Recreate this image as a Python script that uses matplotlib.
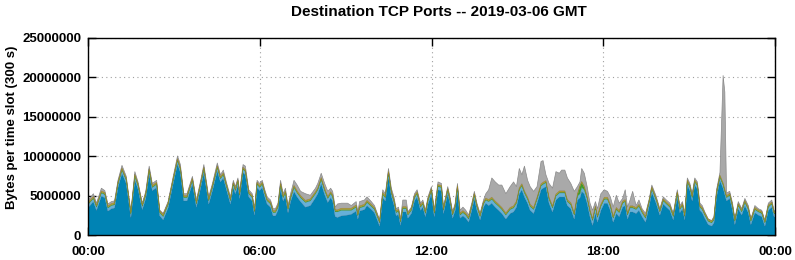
import numpy as np
import matplotlib
matplotlib.use('Agg')
import matplotlib.pyplot as plt

plt.rcParams['font.family'] = ['Liberation Sans', 'DejaVu Sans']
plt.rcParams['font.weight'] = 'bold'

# time of each sample (hours GMT)
hours = [0.00, 0.17, 0.28, 0.45, 0.57, 0.68, 0.80, 0.91, 1.03, 1.17,
         1.32, 1.48, 1.62, 1.73, 1.88, 2.00, 2.12, 2.23, 2.38, 2.49,
         2.61, 2.78, 2.96, 3.11, 3.21, 3.33, 3.44, 3.63, 3.77, 3.92,
         4.03, 4.13, 4.20, 4.33, 4.50, 4.61, 4.71, 4.83, 4.96, 5.06,
         5.13, 5.22, 5.28, 5.40, 5.48, 5.60, 5.72, 5.80, 5.89, 5.98,
         6.07, 6.16, 6.24, 6.36, 6.45, 6.53, 6.62, 6.71, 6.80, 6.88,
         6.97, 7.06, 7.18, 7.29, 7.41, 7.58, 7.75, 7.93, 8.01, 8.13,
         8.25, 8.36, 8.46, 8.53, 8.62, 8.70, 8.83, 9.05, 9.18, 9.35,
         9.41, 9.47, 9.64, 9.73, 9.88, 9.99, 10.11, 10.17, 10.28, 10.37,
         10.48, 10.58, 10.67, 10.75, 10.83, 10.90, 10.98, 11.10, 11.16, 11.28,
         11.39, 11.48, 11.60, 11.68, 11.77, 11.86, 11.98, 12.08, 12.21, 12.33,
         12.40, 12.55, 12.63, 12.72, 12.81, 12.89, 12.98, 13.08, 13.18, 13.28,
         13.39, 13.48, 13.57, 13.68, 13.80, 13.88, 13.98, 14.09, 14.21, 14.33,
         14.44, 14.58, 14.73, 14.85, 14.95, 15.05, 15.14, 15.23, 15.34, 15.43,
         15.55, 15.67, 15.81, 15.88, 15.98, 16.09, 16.21, 16.33, 16.45, 16.53,
         16.64, 16.73, 16.85, 16.97, 17.08, 17.17, 17.23, 17.32, 17.42, 17.52,
         17.61, 17.71, 17.78, 17.90, 18.02, 18.13, 18.23, 18.33, 18.44, 18.54,
         18.66, 18.75, 18.83, 18.92, 19.01, 19.13, 19.23, 19.34, 19.46, 19.58,
         19.68, 19.83, 19.96, 20.08, 20.19, 20.31, 20.43, 20.57, 20.66, 20.75,
         20.83, 20.92, 21.01, 21.09, 21.18, 21.27, 21.36, 21.44, 21.53, 21.65,
         21.77, 21.85, 21.94, 22.06, 22.17, 22.23, 22.29, 22.40, 22.50, 22.58,
         22.70, 22.82, 22.93, 23.05, 23.14, 23.28, 23.40, 23.52, 23.63, 23.75,
         23.87, 23.95, 24.00]

# total bytes per slot (millions)
total = [4.5, 5.3, 4.1, 6.0, 5.7, 4.0, 4.3, 4.4, 7.0, 8.9,
         7.5, 3.0, 8.1, 6.8, 4.1, 5.6, 8.8, 6.6, 7.0, 3.2,
         2.8, 4.3, 7.5, 10.1, 9.0, 5.3, 5.3, 7.5, 4.5, 7.0,
         9.0, 6.6, 4.9, 6.6, 9.2, 7.7, 8.3, 6.6, 4.9, 7.0,
         6.2, 7.3, 5.6, 9.0, 8.8, 5.8, 5.3, 3.4, 7.0, 6.6,
         7.0, 5.8, 4.9, 4.5, 3.4, 3.4, 4.1, 7.0, 5.3, 6.0,
         3.8, 5.3, 7.0, 6.4, 5.6, 5.3, 5.1, 6.0, 6.6, 7.9,
         6.6, 5.6, 6.0, 5.6, 3.6, 4.0, 4.1, 4.1, 3.8, 4.3,
         3.0, 4.3, 4.5, 4.9, 4.3, 3.8, 2.6, 1.9, 5.8, 5.3,
         8.5, 6.0, 4.9, 3.4, 3.6, 2.1, 4.5, 4.5, 3.0, 3.6,
         5.3, 5.8, 4.1, 4.5, 3.2, 4.9, 6.2, 3.2, 6.8, 6.6,
         3.6, 6.2, 4.9, 3.0, 4.1, 6.6, 3.2, 3.6, 3.2, 2.6,
         4.1, 5.6, 4.1, 2.8, 4.5, 5.3, 5.8, 7.3, 6.8, 6.4,
         6.4, 5.3, 6.2, 6.8, 6.2, 8.5, 7.7, 8.8, 7.0, 6.2,
         5.6, 6.2, 9.4, 9.5, 7.7, 6.6, 6.0, 8.1, 7.9, 8.3,
         8.3, 7.3, 6.6, 5.6, 6.2, 6.8, 8.5, 7.9, 6.2, 4.1,
         3.2, 4.3, 3.4, 5.3, 5.8, 5.6, 4.9, 3.6, 5.1, 4.1,
         4.7, 5.8, 3.6, 4.5, 5.6, 3.8, 4.5, 3.4, 2.8, 4.5,
         6.4, 5.0, 3.4, 4.9, 4.5, 4.1, 2.8, 5.8, 3.8, 4.3,
         2.8, 7.3, 6.6, 5.3, 7.3, 6.8, 4.1, 3.8, 3.0, 2.1,
         1.9, 2.4, 5.8, 8.0, 20.3, 18.2, 5.4, 5.6, 4.1, 2.1,
         4.3, 3.4, 4.7, 3.8, 2.1, 3.8, 3.4, 3.2, 1.9, 4.1,
         4.5, 3.2, 3.0]

# main port (blue)
blue = [3.6, 4.3, 3.2, 5.0, 4.8, 3.1, 3.4, 3.5, 6.1, 7.9,
        6.6, 2.3, 7.1, 5.9, 3.3, 4.7, 7.8, 5.7, 6.1, 2.5,
        2.0, 3.5, 6.6, 9.1, 8.0, 4.4, 4.4, 6.6, 3.6, 6.1,
        8.0, 5.7, 4.0, 5.7, 8.2, 6.8, 7.3, 5.7, 4.0, 6.1,
        5.3, 6.4, 4.7, 8.0, 7.7, 4.9, 4.4, 2.6, 6.1, 5.7,
        6.1, 4.9, 4.0, 3.6, 2.5, 2.5, 3.2, 6.0, 4.4, 5.0,
        2.9, 4.3, 5.6, 4.9, 4.3, 3.6, 3.8, 4.8, 5.3, 6.6,
        5.2, 4.2, 4.8, 4.4, 2.4, 2.3, 2.5, 2.6, 2.7, 3.1,
        2.1, 3.1, 3.3, 3.8, 3.3, 2.9, 1.8, 1.2, 4.8, 4.4,
        7.5, 5.0, 3.9, 2.5, 2.7, 1.3, 3.0, 3.0, 2.2, 2.8,
        4.4, 4.9, 3.2, 3.6, 2.4, 4.0, 5.3, 2.4, 5.8, 5.7,
        2.8, 5.3, 4.0, 2.2, 3.2, 5.7, 2.2, 2.5, 2.2, 1.7,
        3.2, 4.7, 3.2, 2.0, 3.6, 4.1, 3.8, 4.1, 3.6, 3.2,
        2.8, 2.1, 2.8, 3.0, 3.6, 5.3, 5.8, 4.9, 4.1, 3.2,
        2.8, 4.1, 5.8, 6.0, 6.2, 4.1, 3.0, 4.5, 4.9, 4.9,
        4.9, 3.8, 3.4, 2.1, 4.5, 4.8, 5.6, 5.3, 4.1, 2.4,
        1.3, 2.9, 1.7, 3.2, 4.1, 4.1, 3.2, 1.7, 2.8, 2.4,
        3.6, 3.8, 2.1, 3.0, 3.0, 2.8, 3.2, 2.4, 1.7, 3.6,
        5.5, 4.1, 2.6, 4.0, 3.6, 3.2, 2.0, 4.9, 2.9, 3.4,
        2.0, 6.4, 5.7, 4.4, 6.4, 5.9, 3.2, 2.9, 2.2, 1.4,
        1.2, 1.6, 4.9, 7.0, 6.0, 5.2, 4.4, 4.7, 3.2, 1.4,
        3.4, 2.6, 3.8, 2.9, 1.4, 2.9, 2.6, 2.4, 1.2, 3.2,
        3.6, 2.4, 2.3]

# second port (light blue)
light = [0.4, 0.4, 0.4, 0.4, 0.4, 0.4, 0.4, 0.4, 0.4, 0.4,
         0.4, 0.4, 0.4, 0.4, 0.4, 0.4, 0.4, 0.4, 0.4, 0.4,
         0.4, 0.4, 0.4, 0.4, 0.4, 0.4, 0.4, 0.4, 0.4, 0.4,
         0.4, 0.4, 0.4, 0.4, 0.4, 0.4, 0.4, 0.4, 0.4, 0.4,
         0.4, 0.4, 0.4, 0.4, 0.4, 0.4, 0.4, 0.4, 0.4, 0.4,
         0.4, 0.4, 0.4, 0.4, 0.4, 0.4, 0.4, 0.4, 0.4, 0.4,
         0.4, 0.4, 0.5, 0.5, 0.5, 0.6, 0.6, 0.5, 0.5, 0.5,
         0.5, 0.5, 0.5, 0.5, 0.6, 0.7, 0.7, 0.6, 0.5, 0.5,
         0.4, 0.4, 0.4, 0.4, 0.4, 0.4, 0.4, 0.4, 0.4, 0.4,
         0.4, 0.4, 0.4, 0.4, 0.4, 0.4, 0.4, 0.4, 0.4, 0.4,
         0.4, 0.4, 0.4, 0.4, 0.4, 0.4, 0.4, 0.4, 0.4, 0.4,
         0.4, 0.4, 0.4, 0.4, 0.4, 0.4, 0.4, 0.4, 0.4, 0.4,
         0.4, 0.4, 0.4, 0.4, 0.4, 0.4, 0.5, 0.5, 0.5, 0.5,
         0.5, 0.5, 0.5, 0.5, 0.5, 0.5, 0.5, 0.5, 0.5, 0.5,
         0.5, 0.5, 0.5, 0.5, 0.5, 0.5, 0.5, 0.5, 0.5, 0.5,
         0.5, 0.5, 0.5, 0.5, 0.5, 0.5, 0.5, 0.5, 0.6, 0.6,
         0.6, 0.6, 0.6, 0.5, 0.5, 0.5, 0.5, 0.5, 0.5, 0.5,
         0.5, 0.5, 0.5, 0.5, 0.5, 0.5, 0.5, 0.5, 0.5, 0.5,
         0.4, 0.4, 0.4, 0.4, 0.4, 0.4, 0.4, 0.4, 0.4, 0.4,
         0.4, 0.4, 0.4, 0.4, 0.4, 0.4, 0.4, 0.4, 0.4, 0.4,
         0.4, 0.4, 0.4, 0.4, 0.4, 0.4, 0.4, 0.4, 0.4, 0.4,
         0.4, 0.4, 0.4, 0.4, 0.4, 0.4, 0.4, 0.4, 0.4, 0.4,
         0.4, 0.4, 0.4]

# third port (green)
green = [0.1, 0.1, 0.1, 0.1, 0.1, 0.1, 0.1, 0.1, 0.1, 0.1,
         0.1, 0.1, 0.1, 0.1, 0.1, 0.1, 0.1, 0.1, 0.1, 0.1,
         0.1, 0.1, 0.1, 0.1, 0.1, 0.1, 0.1, 0.1, 0.1, 0.1,
         0.1, 0.1, 0.1, 0.1, 0.1, 0.1, 0.1, 0.1, 0.1, 0.1,
         0.1, 0.1, 0.1, 0.1, 0.1, 0.1, 0.1, 0.1, 0.1, 0.1,
         0.1, 0.1, 0.1, 0.1, 0.1, 0.1, 0.1, 0.1, 0.1, 0.1,
         0.1, 0.1, 0.1, 0.1, 0.1, 0.1, 0.1, 0.1, 0.1, 0.1,
         0.1, 0.1, 0.1, 0.1, 0.1, 0.1, 0.1, 0.1, 0.1, 0.1,
         0.1, 0.1, 0.1, 0.1, 0.1, 0.1, 0.1, 0.1, 0.1, 0.1,
         0.1, 0.1, 0.1, 0.1, 0.1, 0.1, 0.1, 0.1, 0.1, 0.1,
         0.1, 0.1, 0.1, 0.1, 0.1, 0.1, 0.1, 0.1, 0.1, 0.1,
         0.1, 0.1, 0.1, 0.1, 0.1, 0.1, 0.1, 0.1, 0.1, 0.1,
         0.1, 0.1, 0.1, 0.1, 0.1, 0.1, 0.1, 0.1, 0.1, 0.1,
         0.1, 0.1, 0.1, 0.1, 0.1, 0.1, 0.1, 0.1, 0.1, 0.1,
         0.1, 0.1, 0.1, 0.1, 0.1, 0.1, 0.1, 0.1, 0.1, 0.1,
         0.1, 0.1, 0.1, 0.1, 0.1, 0.9, 0.6, 0.3, 0.1, 0.1,
         0.1, 0.1, 0.1, 0.1, 0.1, 0.1, 0.1, 0.1, 0.1, 0.1,
         0.1, 0.1, 0.1, 0.1, 0.1, 0.1, 0.1, 0.1, 0.1, 0.1,
         0.1, 0.1, 0.1, 0.1, 0.1, 0.1, 0.1, 0.1, 0.1, 0.1,
         0.1, 0.1, 0.1, 0.1, 0.1, 0.1, 0.1, 0.1, 0.1, 0.1,
         0.1, 0.1, 0.1, 0.1, 0.1, 0.1, 0.1, 0.1, 0.1, 0.1,
         0.1, 0.1, 0.1, 0.1, 0.1, 0.1, 0.1, 0.1, 0.1, 0.1,
         0.1, 0.1, 0.1]

# fourth port (olive)
olive = [0.15, 0.15, 0.15, 0.15, 0.15, 0.15, 0.15, 0.15, 0.15, 0.15,
         0.15, 0.15, 0.15, 0.15, 0.15, 0.15, 0.15, 0.15, 0.15, 0.15,
         0.15, 0.15, 0.15, 0.15, 0.15, 0.15, 0.15, 0.15, 0.15, 0.15,
         0.15, 0.15, 0.15, 0.15, 0.15, 0.15, 0.15, 0.15, 0.15, 0.15,
         0.15, 0.15, 0.15, 0.15, 0.15, 0.15, 0.15, 0.15, 0.15, 0.15,
         0.15, 0.15, 0.15, 0.15, 0.15, 0.15, 0.15, 0.15, 0.15, 0.15,
         0.15, 0.15, 0.15, 0.15, 0.15, 0.15, 0.15, 0.15, 0.15, 0.15,
         0.15, 0.15, 0.15, 0.15, 0.15, 0.15, 0.15, 0.15, 0.15, 0.15,
         0.15, 0.15, 0.15, 0.15, 0.15, 0.15, 0.15, 0.15, 0.15, 0.15,
         0.15, 0.15, 0.15, 0.15, 0.15, 0.15, 0.15, 0.15, 0.15, 0.15,
         0.15, 0.15, 0.15, 0.15, 0.15, 0.15, 0.15, 0.15, 0.15, 0.15,
         0.15, 0.15, 0.15, 0.15, 0.15, 0.15, 0.15, 0.15, 0.15, 0.15,
         0.15, 0.15, 0.15, 0.15, 0.15, 0.15, 0.15, 0.15, 0.15, 0.15,
         0.15, 0.15, 0.15, 0.15, 0.15, 0.15, 0.15, 0.15, 0.15, 0.15,
         0.15, 0.15, 0.15, 0.15, 0.15, 0.15, 0.15, 0.15, 0.15, 0.15,
         0.15, 0.15, 0.15, 0.15, 0.15, 0.15, 0.15, 0.15, 0.15, 0.15,
         0.15, 0.15, 0.15, 0.15, 0.15, 0.15, 0.15, 0.15, 0.15, 0.15,
         0.15, 0.15, 0.15, 0.15, 0.15, 0.15, 0.15, 0.15, 0.15, 0.15,
         0.15, 0.15, 0.15, 0.15, 0.15, 0.15, 0.15, 0.15, 0.15, 0.15,
         0.15, 0.15, 0.15, 0.15, 0.15, 0.15, 0.15, 0.15, 0.15, 0.15,
         0.15, 0.15, 0.15, 0.15, 0.15, 0.15, 0.15, 0.15, 0.15, 0.15,
         0.15, 0.15, 0.15, 0.15, 0.15, 0.15, 0.15, 0.15, 0.15, 0.15,
         0.15, 0.15, 0.15]

xtick_hours = [0, 6, 12, 18, 24]
xtick_labels = ['00:00', '06:00', '12:00', '18:00', '00:00']
ytick_values = [0, 5000000, 10000000, 15000000, 20000000, 25000000]

x = np.array(hours)
ports = [np.array(blue), np.array(light), np.array(green), np.array(olive)]
colors = ['#0083b4', '#66b0d8', '#3f9a2e', '#b0982c']
edges = ['#1a6688', '#5aa0c6', '#3a8c2a', '#9a8426']
widths = [0.5, 0.3, 0.2, 0.2]

fig = plt.figure(figsize=(7.95, 2.6), dpi=100)
ax = fig.add_axes([88 / 795, 25 / 260, 687 / 795, 197 / 260])

bottom = np.zeros(len(x))
for vals, c, ec, lw in zip(ports, colors, edges, widths):
    top = bottom + vals
    ax.fill_between(x, bottom * 1e6, top * 1e6, facecolor=c, edgecolor=ec, linewidth=lw, zorder=3)
    bottom = top
other = np.clip(np.array(total) - bottom, 0.05, None)
ax.fill_between(x, bottom * 1e6, (bottom + other) * 1e6, facecolor='#a9a9a9', edgecolor='#8a8a8a',
                linewidth=0.5, zorder=2)

ax.set_xlim(0, 24)
ax.set_ylim(0, 25000000)
ax.set_xticks(xtick_hours)
ax.set_xticklabels(xtick_labels)
ax.set_yticks(ytick_values)
ax.set_yticklabels([str(v) for v in ytick_values])
ax.tick_params(direction='in', length=6, width=1, top=True, right=True, labelsize=9.5, pad=5)
ax.tick_params(axis='x', pad=8)
ax.grid(True, linestyle=(0, (1, 3)), color='#a0a0a0', linewidth=0.8)
ax.set_axisbelow(True)
for s in ax.spines.values():
    s.set_linewidth(1)
    s.set_zorder(5)

fig.text(438.5 / 795, 1 - 12 / 260, 'Destination TCP Ports -- 2019-03-06 GMT', ha='center', va='center',
         fontsize=11, fontweight='bold')
fig.text(12 / 795, 1 - 127 / 260, 'Bytes per time slot (300 s)', rotation=90, ha='center', va='center',
         fontsize=9.5, fontweight='bold')

fig.savefig('out.png', dpi=100)
